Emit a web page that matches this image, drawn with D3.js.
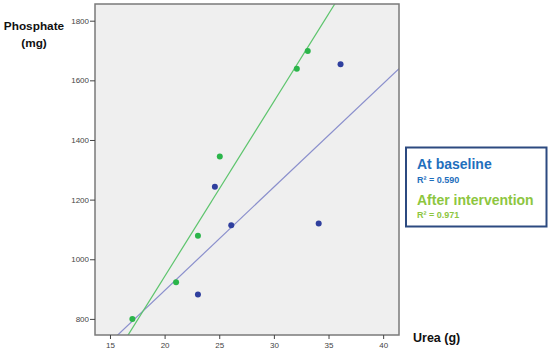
<!DOCTYPE html>
<html>
<head>
<meta charset="utf-8">
<script src="https://cdn.jsdelivr.net/npm/d3@7"></script>
<style>
  body { margin: 0; background: #fff; }
  svg { display: block; font-family: "Liberation Sans", Arial, sans-serif; }
</style>
</head>
<body>
<div id="chart"></div>
<script>
// data
const baselineUrea = [36.1, 24.6, 26.1, 34.1, 23.05]
const baselinePhosphate = [1654, 1243, 1114, 1120, 882]
const afterUrea = [33.1, 32.1, 25.05, 23.05, 21.05, 17.05]
const afterPhosphate = [1698, 1639, 1345, 1079, 923, 800]
// fit lines as drawn (slope, intercept)
const fitSlope = [34.7, 58.7]
const fitIntercept = [201, -232]
const seriesNames = ["At baseline", "After intervention"]
const rSquared = ["0.590", "0.971"]
const xTicks = [15, 20, 25, 30, 35, 40]
const yTicks = [800, 1000, 1200, 1400, 1600, 1800]

const width = 550
let dimensions = {
  width: width,
  height: 352,
  margin: { top: 4, right: 151, bottom: 17, left: 95 },
}
dimensions.boundedWidth = dimensions.width - dimensions.margin.left - dimensions.margin.right
dimensions.boundedHeight = dimensions.height - dimensions.margin.top - dimensions.margin.bottom

const svg = d3.select("#chart")
  .append("svg")
    .attr("width", dimensions.width)
    .attr("height", dimensions.height)

const bounds = svg.append("g")
    .attr("transform", `translate(${dimensions.margin.left}, ${dimensions.margin.top})`)

const xScale = d3.scaleLinear()
  .domain([13.63, 41.45])
  .range([0, dimensions.boundedWidth])

const yScale = d3.scaleLinear()
  .domain([746, 1856])
  .range([dimensions.boundedHeight, 0])

bounds.append("rect")
    .attr("width", dimensions.boundedWidth)
    .attr("height", dimensions.boundedHeight)
    .attr("fill", "#efefef")

bounds.append("clipPath")
    .attr("id", "plot-clip")
  .append("rect")
    .attr("width", dimensions.boundedWidth)
    .attr("height", dimensions.boundedHeight)

// fit lines
const lineColors = ["#8a8fcc", "#5cc46c"]
const dotColors = ["#2f3f9e", "#2bb54a"]
const xDomain = xScale.domain()
const fitLines = bounds.append("g").attr("clip-path", "url(#plot-clip)")
fitSlope.forEach((slope, i) => {
  const f = x => fitIntercept[i] + slope * x
  fitLines.append("line")
      .attr("x1", xScale(xDomain[0]))
      .attr("y1", yScale(f(xDomain[0])))
      .attr("x2", xScale(xDomain[1]))
      .attr("y2", yScale(f(xDomain[1])))
      .attr("stroke", lineColors[i])
      .attr("stroke-width", 1.2)
})

// points
const series = [
  d3.zip(baselineUrea, baselinePhosphate),
  d3.zip(afterUrea, afterPhosphate),
]
series.forEach((pts, i) => {
  bounds.append("g")
    .selectAll("circle")
    .data(pts)
    .join("circle")
      .attr("cx", d => xScale(d[0]))
      .attr("cy", d => yScale(d[1]))
      .attr("r", 3)
      .attr("fill", dotColors[i])
})

// frame
bounds.append("rect")
    .attr("width", dimensions.boundedWidth)
    .attr("height", dimensions.boundedHeight)
    .attr("fill", "none")
    .attr("stroke", "#7a7a7a")
    .attr("stroke-width", 1.5)

// axes
const xAxis = bounds.append("g")
    .attr("transform", `translate(0, ${dimensions.boundedHeight})`)
    .call(d3.axisBottom(xScale).tickValues(xTicks).tickSize(4).tickPadding(3))
const yAxis = bounds.append("g")
    .call(d3.axisLeft(yScale).tickValues(yTicks).tickFormat(d3.format("d")).tickSize(5).tickPadding(1))

;[xAxis, yAxis].forEach(a => {
  a.select(".domain").remove()
  a.selectAll(".tick line").attr("stroke", "#444")
  a.selectAll(".tick text")
      .attr("fill", "#444")
      .style("font-size", "8px")
      .style("font-family", "'Liberation Sans', Arial, sans-serif")
})

// axis titles
const yTitle = svg.append("text")
    .attr("text-anchor", "middle")
    .attr("font-weight", "bold")
    .style("font-size", "11.8px")
    .attr("fill", "#111")
yTitle.append("tspan").attr("x", 34).attr("y", 30).text("Phosphate")
yTitle.append("tspan").attr("x", 34).attr("y", 47).text("(mg)")

svg.append("text")
    .attr("x", 413)
    .attr("y", 342)
    .attr("font-weight", "bold")
    .style("font-size", "12.5px")
    .attr("fill", "#111")
    .text("Urea (g)")

// legend box
const legend = svg.append("g")
legend.append("rect")
    .attr("x", 406)
    .attr("y", 147.5)
    .attr("width", 140.5)
    .attr("height", 79)
    .attr("fill", "#fff")
    .attr("stroke", "#2c4a80")
    .attr("stroke-width", 2)

const legendColors = ["#1f6fbd", "#8dc63f"]
seriesNames.forEach((name, i) => {
  legend.append("text")
      .attr("x", 417)
      .attr("y", 169 + i * 35.5)
      .attr("font-weight", "bold")
      .style("font-size", "14px")
      .attr("fill", legendColors[i])
      .text(name)
  legend.append("text")
      .attr("x", 417)
      .attr("y", 182.5 + i * 35.5)
      .attr("font-weight", "bold")
      .style("font-size", "9px")
      .attr("fill", legendColors[i])
      .text(`R² = ${rSquared[i]}`)
})
</script>
</body>
</html>
